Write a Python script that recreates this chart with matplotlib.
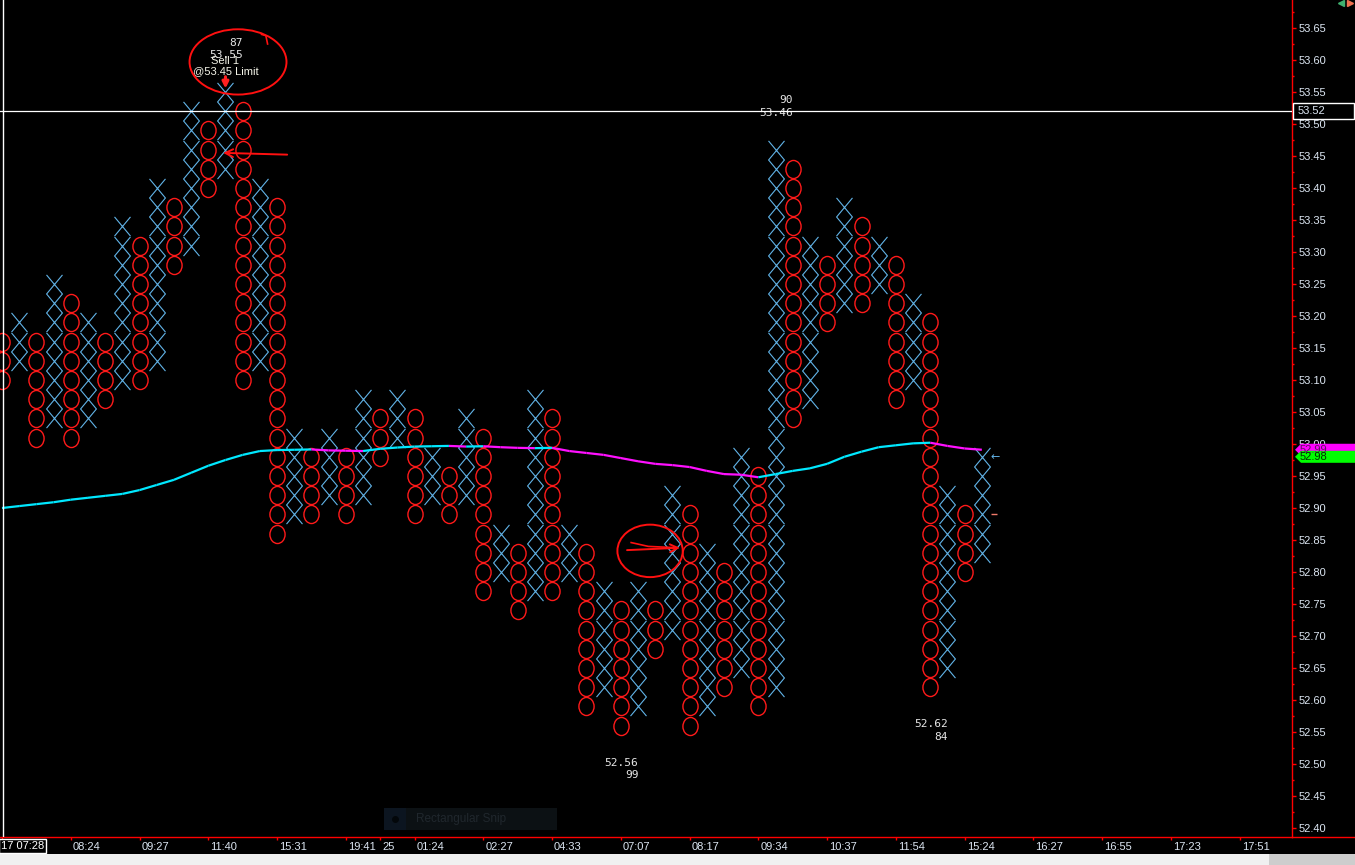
import numpy as np
import matplotlib
matplotlib.use('Agg')
import matplotlib.pyplot as plt
import matplotlib.transforms as mtrans
from matplotlib.path import Path
from matplotlib.patches import Ellipse, Polygon, Rectangle
from matplotlib.transforms import Affine2D
from matplotlib.collections import LineCollection
from matplotlib.lines import Line2D
from matplotlib.ticker import MultipleLocator, FormatStrFormatter

plt.rcParams['font.family'] = ['Liberation Sans', 'DejaVu Sans']

BOX = 0.03

# point & figure columns, left to right
col_kind = ['O', 'X'] * 29
col_low = [53.10, 53.13, 53.01, 53.04, 53.01, 53.04, 53.07, 53.10, 53.10, 53.13,
           53.28, 53.31, 53.40, 53.43, 53.10, 53.13, 52.86, 52.89, 52.89, 52.92,
           52.89, 52.92, 52.98, 53.01, 52.89, 52.92, 52.89, 52.92, 52.77, 52.80,
           52.74, 52.77, 52.77, 52.80, 52.59, 52.62, 52.56, 52.59, 52.68, 52.71,
           52.56, 52.59, 52.62, 52.65, 52.59, 52.62, 53.04, 53.07, 53.19, 53.22,
           53.22, 53.25, 53.07, 53.10, 52.62, 52.65, 52.80, 52.83]
col_high = [53.16, 53.19, 53.16, 53.25, 53.22, 53.19, 53.16, 53.34, 53.31, 53.40,
            53.37, 53.52, 53.49, 53.55, 53.52, 53.40, 53.37, 53.01, 52.98, 53.01,
            52.98, 53.07, 53.04, 53.07, 53.04, 52.98, 52.95, 53.04, 53.01, 52.86,
            52.83, 53.07, 53.04, 52.86, 52.83, 52.77, 52.74, 52.77, 52.74, 52.92,
            52.89, 52.83, 52.80, 52.98, 52.95, 53.46, 53.43, 53.31, 53.28, 53.37,
            53.34, 53.31, 53.28, 53.22, 53.19, 52.92, 52.89, 52.98]

# moving average, one value per column
ma = [52.900, 52.903, 52.906, 52.909, 52.913, 52.916, 52.919, 52.922, 52.928, 52.936,
      52.944, 52.955, 52.966, 52.975, 52.983, 52.989, 52.9905, 52.991, 52.9915, 52.990,
      52.9895, 52.989, 52.9925, 52.9945, 52.996, 52.9965, 52.997, 52.996, 52.9965, 52.995,
      52.994, 52.9935, 52.994, 52.989, 52.986, 52.983, 52.978, 52.973, 52.969, 52.967,
      52.964, 52.958, 52.953, 52.952, 52.948, 52.953, 52.958, 52.962, 52.969, 52.980,
      52.988, 52.995, 52.998, 53.001, 53.002, 52.997, 52.993, 52.991]

# time axis labels (column index -> label)
time_cols = [4, 8, 12, 16, 20, 22, 24, 28, 32, 36, 40, 44, 48, 52, 56, 60, 64, 68, 72]
time_labels = ['08:24', '09:27', '11:40', '15:31', '19:41', '25', '01:24', '02:27',
               '04:33', '07:07', '08:17', '09:34', '10:37', '11:54', '15:24', '16:27',
               '16:55', '17:23', '17:51']
first_label = '17 07:28'

# swing annotations: (column, count)
high_notes = [(13, '87'), (45, '90')]
low_notes = [(36, '99'), (54, '84')]

last_price = 52.98
crosshair_price = 53.52
order_text = ['Sell 1', '@53.45 Limit']

W, H = 1355, 865
fig = plt.figure(figsize=(W / 100, H / 100), dpi=100, facecolor='black')
ax = fig.add_axes([0, 28 / H, 1292 / W, 837 / H])
ax.set_facecolor('black')
ax.set_xlim(-2 / 17.19, 1290 / 17.19)
ax.set_ylim(53.50 - 713 / 640, 53.50 + 124 / 640)

x_mark = Path([(-8, -9.6), (8, 9.6), (-8, 9.6), (8, -9.6)],
              [Path.MOVETO, Path.LINETO, Path.MOVETO, Path.LINETO])
o_mark = Path.unit_circle().transformed(Affine2D().scale(0.84, 1.0))

for i, (k, lo, hi) in enumerate(zip(col_kind, col_low, col_high)):
    n = int(round((hi - lo) / BOX)) + 1
    lv = lo + BOX * np.arange(n)
    if k == 'X':
        ax.plot(np.full(n, i), lv, ls='none', marker=x_mark, ms=13.8,
                mec='#62b4e8', mew=0.8, zorder=3)
    else:
        ax.plot(np.full(n, i), lv, ls='none', marker=o_mark, ms=13.0,
                mfc='none', mec='#ff1a1a', mew=1.0, zorder=3)

# moving average coloured by direction
xs = np.arange(len(ma))
pts = np.column_stack([xs, ma])
segs = np.stack([pts[:-1], pts[1:]], axis=1)
cols = ['#00e8ff' if b >= a else '#ff10ff' for a, b in zip(ma[:-1], ma[1:])]
ax.add_collection(LineCollection(segs, colors=cols, linewidths=1.6, zorder=4))

# crosshair
ax.axhline(crosshair_price, color='white', lw=0.9, zorder=5)
ax.axvline(0.03, color='white', lw=1.0, zorder=5)

mono = dict(family='DejaVu Sans Mono', fontsize=8, color='#e6e6e6')
for c, cnt in high_notes:
    ax.annotate('%s\n%.2f' % (cnt, col_high[c]), xy=(c, col_high[c]),
                xytext=(12.6, 23), textcoords='offset points', ha='right',
                va='bottom', multialignment='right', linespacing=1.3, **mono)
for c, cnt in low_notes:
    ax.annotate('%.2f\n%s' % (col_low[c], cnt), xy=(c, col_low[c]),
                xytext=(12.6, -23), textcoords='offset points', ha='right',
                va='top', multialignment='right', linespacing=1.3, **mono)

# order marker on the top column
top_col = high_notes[0][0]
ax.annotate(order_text[0], xy=(top_col, col_high[top_col]), xytext=(0, 22.3),
            textcoords='offset points', ha='center', va='center',
            fontsize=8, color='#f4f4e8', zorder=6)
ax.annotate(order_text[1], xy=(top_col, col_high[top_col]), xytext=(0, 15),
            textcoords='offset points', ha='center', va='center',
            fontsize=8, color='#f4f4e8', zorder=6)
ax.annotate('', xy=(top_col, col_high[top_col]), xytext=(0, 11),
            textcoords='offset points',
            arrowprops=dict(arrowstyle='-|>', color='#ff2020', lw=2.2,
                            mutation_scale=9, shrinkA=0, shrinkB=2.5), zorder=6)

# hand drawn marks
ax.add_patch(Ellipse((13.73, 53.597), 5.64, 0.102, fill=False, ec='#ff1010',
                     lw=1.4, zorder=6))
ax.plot([15.1, 15.35, 15.45], [53.640, 53.638, 53.625], color='#ff1010', lw=1.2, zorder=6)
ax.annotate('', xy=(12.7, 53.455), xytext=(16.75, 53.452),
            arrowprops=dict(arrowstyle='->', color='#ff1010', lw=1.4,
                            mutation_scale=14), zorder=6)
ax.add_patch(Ellipse((37.7, 52.833), 3.8, 0.082, fill=False, ec='#ff1010',
                     lw=1.4, zorder=6))
ax.annotate('', xy=(39.6, 52.838), xytext=(36.2, 52.834),
            arrowprops=dict(arrowstyle='->', color='#ff1010', lw=1.4,
                            mutation_scale=14), zorder=6)
ax.plot([36.6, 37.6, 39.2], [52.846, 52.840, 52.838], color='#ff1010', lw=1.2, zorder=6)

# last price markers next to the final column
last = len(col_kind) - 1
ax.annotate('\u2190', xy=(last + 0.75, last_price), ha='center', va='center',
            fontsize=8, color='#62b4e8', family='DejaVu Sans')
ax.plot([last + 0.72], [52.89], marker='_', ms=4, color='#f07a6a', mew=1)

# axes styling
for s in ['top', 'left']:
    ax.spines[s].set_visible(False)
for s in ['right', 'bottom']:
    ax.spines[s].set_color('#ff0000')
    ax.spines[s].set_linewidth(1.0)
ax.yaxis.tick_right()
ax.yaxis.set_major_locator(MultipleLocator(0.05))
ax.yaxis.set_minor_locator(MultipleLocator(0.025))
ax.yaxis.set_major_formatter(FormatStrFormatter('%.2f'))
ax.tick_params(axis='y', which='major', length=3, width=1, color='#ff0000',
               labelcolor='#dce6f2', labelsize=8, pad=2)
ax.tick_params(axis='y', which='minor', length=1.5, width=1, color='#ff0000')
ax.set_xticks([0] + time_cols)
ax.set_xticklabels([''] + time_labels)
ax.tick_params(axis='x', length=2, width=1, color='#ff0000', labelcolor='#dce6f2',
               labelsize=8, pad=1.5)
off = mtrans.ScaledTranslation(2 / 100, 0, fig.dpi_scale_trans)
for lbl in ax.get_xticklabels():
    lbl.set_ha('left')
    lbl.set_transform(lbl.get_transform() + off)

fig.text(1 / W, 1 - 846 / H, first_label, fontsize=8, color='white', ha='left',
         va='center', bbox=dict(boxstyle='square,pad=0.15', fc='black', ec='white', lw=1))

# right axis tags
yt = ax.get_yaxis_transform()
aw = 1292.0


def tag(price, face, text, txtcol):
    h = 6.0 / 640
    ax.add_patch(Polygon([(1295 / aw, price), (1301 / aw, price + h), (1356 / aw, price + h),
                          (1356 / aw, price - h), (1301 / aw, price - h)],
                         closed=True, transform=yt, fc=face, ec='none', clip_on=False, zorder=6))
    ax.text(1300 / aw, price, text, transform=yt, fontsize=8, color=txtcol,
            va='center', ha='left', clip_on=False, zorder=7)


tag(ma[-1], '#ff00ff', '%.2f' % ma[-1], '#601060')
tag(last_price, '#00ff00', '%.2f' % last_price, '#003300')

ax.add_patch(Rectangle((1293 / aw, crosshair_price - 8 / 640), 61 / aw, 16 / 640,
                       transform=yt, fc='black', ec='white', lw=1, clip_on=False, zorder=6))
ax.text(1298 / aw, crosshair_price, '%.2f' % crosshair_price, transform=yt, fontsize=8,
        color='#dce6f2', va='center', ha='left', clip_on=False, zorder=7)

# bottom frame bits
fig.add_artist(Line2D([1292 / W, 1], [28 / H, 28 / H], color='#ff0000', lw=1,
                      transform=fig.transFigure))
fig.add_artist(Rectangle((0, 0), 1, 11 / H, transform=fig.transFigure,
                         fc='#f0f0f0', ec='none'))
fig.add_artist(Rectangle((1269 / W, 0), 86 / W, 11 / H, transform=fig.transFigure,
                         fc='#cdcdcd', ec='none'))

# snip tooltip leftover
fig.add_artist(Rectangle((384 / W, 1 - 830 / H), 173 / W, 22 / H, transform=fig.transFigure,
                         fc='#0c1114', ec='none'))
fig.add_artist(Rectangle((384 / W, 1 - 830 / H), 22 / W, 22 / H, transform=fig.transFigure,
                         fc='#0c1520', ec='none'))
fig.add_artist(Line2D([395 / W], [1 - 819 / H], marker='o', ms=4, color='#03070a',
                      transform=fig.transFigure))
fig.text(416 / W, 1 - 819 / H, 'Rectangular Snip', fontsize=8.5, color='#20272d',
         ha='left', va='center')

# top right icons
fig.add_artist(Line2D([1341 / W], [1 - 3 / H], marker='<', ms=5, color='#40b070',
                      transform=fig.transFigure))
fig.add_artist(Line2D([1350 / W], [1 - 3 / H], marker='>', ms=5, color='#f07050',
                      transform=fig.transFigure))

fig.savefig('out.png', dpi=100, facecolor='black')
